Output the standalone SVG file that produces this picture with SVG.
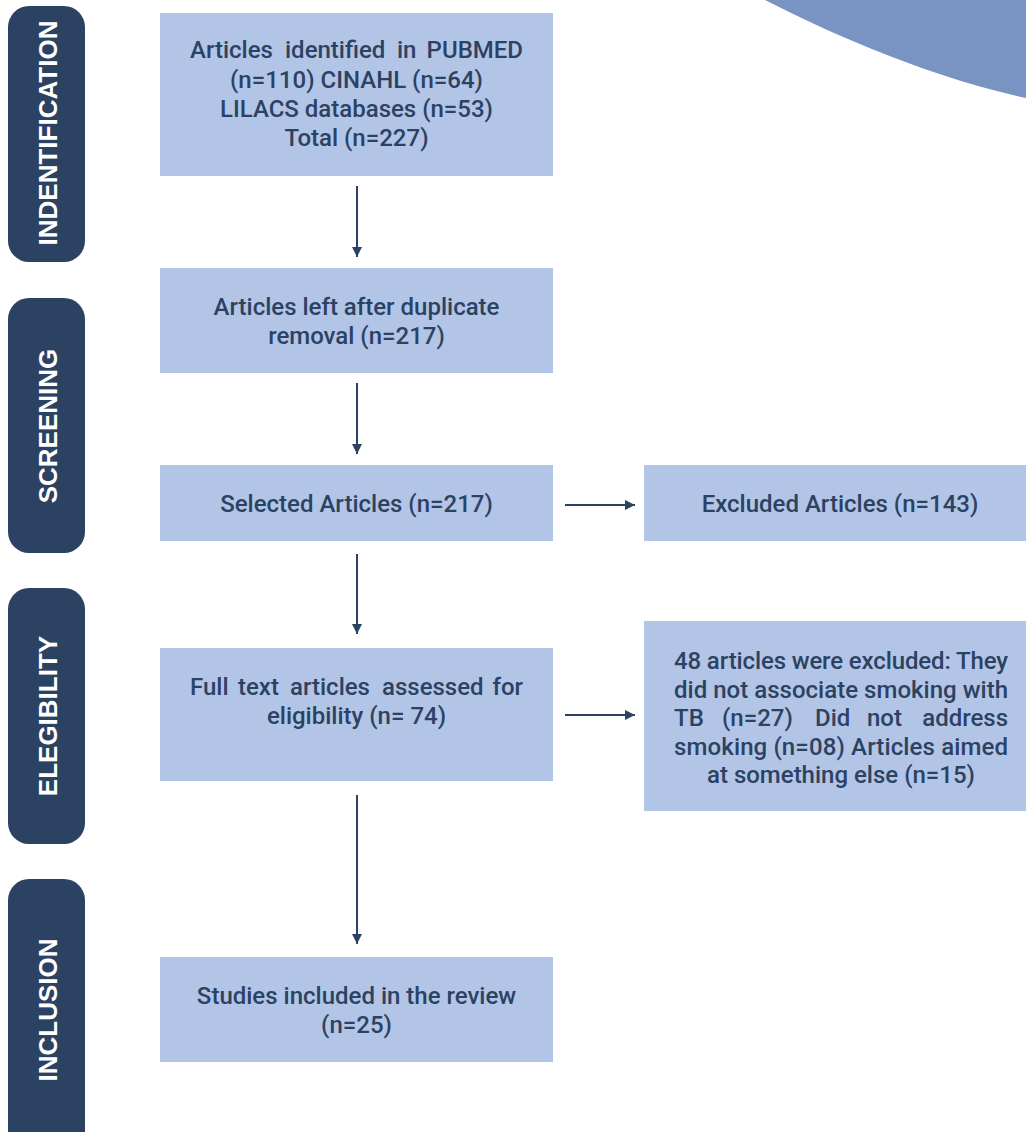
<svg xmlns="http://www.w3.org/2000/svg" width="1026" height="1132" viewBox="0 0 1026 1132">
<defs>
<marker id="ah" viewBox="0 0 10 10" refX="10" refY="5" markerWidth="10" markerHeight="10" markerUnits="userSpaceOnUse" orient="auto">
<path d="M0,0 L10,5 L0,10 Z" fill="#2c4263"/>
</marker>
<style>
.bar{fill:#2c4263}
.bt{fill:#ffffff;font-family:"Liberation Sans",Arial,sans-serif;font-weight:bold;font-size:26px;text-anchor:middle}
.box{fill:#b3c5e6}
.t{fill:#2c4263;font-family:Roboto,"Noto Sans",sans-serif;font-weight:500;font-size:24px;text-anchor:middle}
.tj{fill:#2c4263;font-family:Roboto,"Noto Sans",sans-serif;font-weight:500;font-size:24px}
.te{text-anchor:end}
.c{stroke:#2c4263;stroke-width:2;fill:none;marker-end:url(#ah)}
</style>
</defs>
<rect width="1026" height="1132" fill="#ffffff"/>
<path d="M765,0 C820,28 920,75 1026,98 L1026,0 Z" fill="#7994c2"/>

<g id="stage-identification"><rect class="bar" x="8" y="6" width="77" height="256" rx="21"/><text class="bt" transform="translate(56.5,133) rotate(-90)">INDENTIFICATION</text></g>
<g id="stage-screening"><rect class="bar" x="8" y="298" width="77" height="255" rx="21"/><text class="bt" transform="translate(56.5,426) rotate(-90)">SCREENING</text></g>
<g id="stage-elegibility"><rect class="bar" x="8" y="588" width="77" height="256" rx="21"/><text class="bt" transform="translate(56.5,716) rotate(-90)">ELEGIBILITY</text></g>
<g id="stage-inclusion"><rect class="bar" x="8" y="879" width="77" height="280" rx="21"/><text class="bt" transform="translate(56.5,1010) rotate(-90)">INCLUSION</text></g>

<g id="n1"><rect class="box" x="160" y="13" width="393" height="163"/>
<text class="tj" y="58"><tspan x="190">Articles</tspan> <tspan x="285">identified</tspan> <tspan x="397">in</tspan></text>
<text class="tj te" x="523" y="58">PUBMED</text>
<text class="t" x="356.5" y="88">(n=110) CINAHL (n=64)</text>
<text class="t" x="356.5" y="117">LILACS databases (n=53)</text>
<text class="t" x="356.5" y="146">Total (n=227)</text></g>

<g id="n2"><rect class="box" x="160" y="268" width="393" height="105"/>
<text class="t" x="356.5" y="315">Articles left after duplicate</text>
<text class="t" x="356.5" y="344">removal (n=217)</text></g>

<g id="n3"><rect class="box" x="160" y="465" width="393" height="76"/>
<text class="t" x="356.5" y="512">Selected Articles (n=217)</text></g>

<g id="n3x"><rect class="box" x="644" y="465" width="382" height="76"/>
<text class="t" x="840" y="512">Excluded Articles (n=143)</text></g>

<g id="n4"><rect class="box" x="160" y="648" width="393" height="133"/>
<text class="tj" y="695"><tspan x="190">Full</tspan> <tspan x="238">text</tspan> <tspan x="290">articles</tspan> <tspan x="382">assessed</tspan></text>
<text class="tj te" x="523" y="695">for</text>
<text class="t" x="356.5" y="724">eligibility (n= 74)</text></g>

<g id="n4x"><rect class="box" x="644" y="621" width="382" height="190"/>
<text class="tj" x="674" y="669" textLength="334" lengthAdjust="spacing">48 articles were excluded: They</text>
<text class="tj" x="674" y="698" textLength="334" lengthAdjust="spacing">did not associate smoking with</text>
<text class="tj" y="726"><tspan x="674">TB</tspan> <tspan x="722">(n=27)</tspan> <tspan x="815">Did</tspan> <tspan x="867">not</tspan></text>
<text class="tj te" x="1008" y="726">address</text>
<text class="tj" x="674" y="755" textLength="334" lengthAdjust="spacing">smoking (n=08) Articles aimed</text>
<text class="t" x="841" y="783">at something else (n=15)</text></g>

<g id="n5"><rect class="box" x="160" y="957" width="393" height="105"/>
<text class="t" x="356.5" y="1004">Studies included in the review</text>
<text class="t" x="356.5" y="1033">(n=25)</text></g>

<g id="connectors">
<line class="c" x1="357" y1="186" x2="357" y2="257"/>
<line class="c" x1="357" y1="383" x2="357" y2="454"/>
<line class="c" x1="357" y1="554" x2="357" y2="634"/>
<line class="c" x1="357" y1="795" x2="357" y2="944"/>
<line class="c" x1="565" y1="505" x2="635" y2="505"/>
<line class="c" x1="565" y1="715" x2="635" y2="715"/>
</g>
</svg>
